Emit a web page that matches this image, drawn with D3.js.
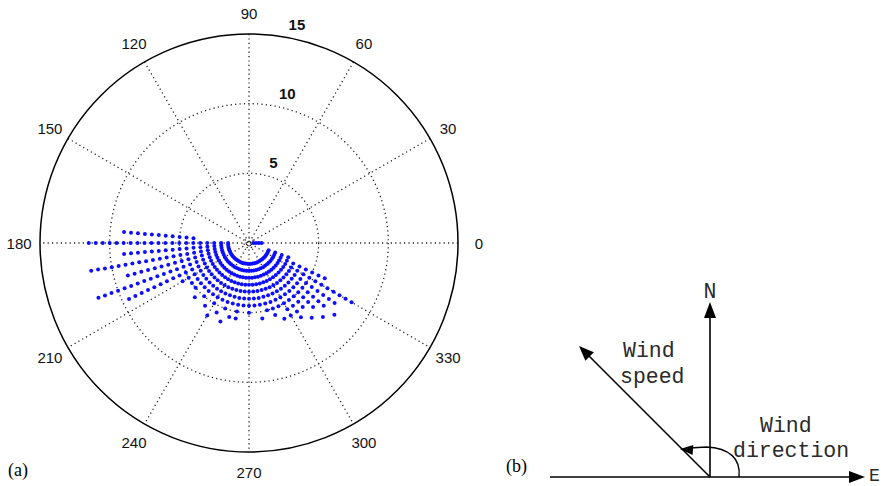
<!DOCTYPE html>
<html><head><meta charset="utf-8">
<script src="https://cdn.jsdelivr.net/npm/d3@7"></script>
<style>
html,body{margin:0;padding:0;background:#fff;}
svg{display:block;}
</style></head>
<body>
<svg id="chart" width="889" height="486"></svg>
<script>
// ---------- DATA ----------
const angleTicks = [0, 30, 60, 90, 120, 150, 180, 210, 240, 270, 300, 330];
const radialTicks = [5, 10, 15];
const radialMax = 15;
// wind direction (deg) of each ray of points
const directions = [0, 175, 180, 185, 190, 195, 200, 205, 210, 215, 220, 225, 230, 235, 240, 245, 250, 255, 260, 265, 270, 275, 280, 285, 290, 295, 300, 305, 310, 315, 320, 325, 330, 335, 340];
// wind speeds observed at each direction
const speeds = [
  [0.3, 0.5, 0.7, 0.9],
  [4, 4.5, 5, 5.5, 6, 6.5, 7, 7.5, 8, 8.5, 9],
  [1.5, 2, 2.5, 3, 3.5, 4, 4.5, 5, 5.5, 6, 6.5, 7, 7.5, 8, 8.5, 9, 9.5, 10, 10.5, 11, 11.5],
  [1.5, 2, 2.5, 3, 3.5, 4, 4.5, 5, 5.5, 6, 6.5, 7, 7.5, 8, 8.5, 9],
  [1.5, 2, 2.5, 3, 3.5, 4, 4.5, 5, 5.5, 6, 6.5, 7, 7.5, 8, 8.5, 9, 9.5, 10, 10.5, 11, 11.5],
  [1.5, 2, 2.5, 3, 3.5, 4, 4.5, 5, 5.5, 6, 6.5, 7, 7.5, 8, 8.5, 9],
  [1.5, 2, 2.5, 3, 3.5, 4, 4.5, 5, 5.5, 6, 6.5, 7, 7.5, 8, 8.5, 9, 9.5, 10, 10.5, 11, 11.5],
  [1.5, 2, 2.5, 3, 3.5, 4, 4.5, 5, 5.5, 6, 6.5, 7, 7.5, 8, 8.5, 9, 9.5],
  [1.5, 2, 2.5, 3, 3.5, 4, 4.5, 5, 5.5],
  [1.5, 2, 2.5, 3, 3.5, 4, 4.5, 5],
  [1.5, 2, 2.5, 3, 3.5, 4, 4.5, 5],
  [1.5, 2, 2.5, 3, 3.5, 4, 4.5, 5.5],
  [1.5, 2, 2.5, 3, 3.5, 4, 4.5, 5],
  [1.5, 2, 2.5, 3, 3.5, 4, 4.5, 5.5],
  [1.5, 2, 2.5, 3, 3.5, 4, 4.5, 5, 6],
  [1.5, 2, 2.5, 3, 3.5, 4, 4.5, 5.5],
  [1.5, 2, 2.5, 3, 3.5, 4, 4.5, 5, 6],
  [1.5, 2, 2.5, 3, 3.5, 4, 4.5, 5.5],
  [1.5, 2, 2.5, 3, 3.5, 4, 4.5, 5, 5.5],
  [1.5, 2, 2.5, 3, 3.5, 4, 4.5],
  [1.5, 2, 2.5, 3, 3.5, 4, 4.5, 5],
  [1.5, 2, 2.5, 3, 3.5, 4, 4.5],
  [1.5, 2, 2.5, 3, 3.5, 4, 4.5, 5.5],
  [1.5, 2, 2.5, 3, 3.5, 4, 4.5, 5],
  [1.5, 2, 2.5, 3, 3.5, 4, 4.5, 5, 5.5],
  [1.5, 2, 2.5, 3, 3.5, 4, 4.5, 5, 6],
  [1.5, 2, 2.5, 3, 3.5, 4, 4.5, 5, 5.5, 6],
  [1.5, 2, 2.5, 3, 3.5, 4, 4.5, 5, 5.5, 6, 6.5],
  [1.5, 2, 2.5, 3, 3.5, 4, 4.5, 5, 5.5, 6, 7],
  [1.5, 2, 2.5, 3, 3.5, 4, 4.5, 5, 5.5, 6, 6.5, 7.5],
  [1.5, 2, 2.5, 3, 3.5, 4, 4.5, 5, 5.5, 6, 6.5, 7, 8],
  [1.5, 2, 2.5, 3, 3.5, 4, 4.5, 5, 5.5, 6, 6.5, 7, 7.5],
  [1.5, 2, 2.5, 3, 3.5, 4, 4.5, 5, 5.5, 6, 6.5, 7, 7.5, 8, 8.5],
  [1.5, 2, 2.5, 3, 3.5, 4, 4.5, 5, 5.5, 6],
  [1.5, 2, 2.5, 3]
];
const innerRing = 0.35;
// diagram (b) texts
const diagramLabels = {north: "N", east: "E", speed: ["Wind", "speed"], dir: ["Wind", "direction"]};
const panelLabels = ["(a)", "(b)"];

// ---------- CHART ----------
const svg = d3.select("#chart");
const cx = 249, cy = 243, R = 209;
const r = d3.scaleLinear().domain([0, radialMax]).range([0, R]);
const toRad = d => d * Math.PI / 180;
const px = (deg, v) => cx + r(v) * Math.cos(toRad(deg));
const py = (deg, v) => cy - r(v) * Math.sin(toRad(deg));

const grid = svg.append("g");
const dotStyle = s => s.attr("fill", "none").attr("stroke", "#222").attr("stroke-width", 1.3)
  .attr("stroke-dasharray", "1.2,3.2");

// spokes (full diameters)
grid.selectAll("line.spoke").data(angleTicks.filter(a => a < 180)).join("line")
  .attr("x1", d => px(d, radialMax)).attr("y1", d => py(d, radialMax))
  .attr("x2", d => px(d + 180, radialMax)).attr("y2", d => py(d + 180, radialMax))
  .call(dotStyle);
// inner rings
grid.selectAll("circle.ring").data(radialTicks.filter(t => t < radialMax).concat([innerRing])).join("circle")
  .attr("cx", cx).attr("cy", cy).attr("r", d => r(d)).call(dotStyle);
// outer ring
grid.append("circle").attr("cx", cx).attr("cy", cy).attr("r", r(radialMax))
  .attr("fill", "none").attr("stroke", "#000").attr("stroke-width", 1.5);

// angle labels
svg.append("g").selectAll("text").data(angleTicks).join("text")
  .attr("x", d => cx + 1.1 * R * Math.cos(toRad(d)))
  .attr("y", d => cy - 1.1 * R * Math.sin(toRad(d)))
  .attr("text-anchor", "middle").attr("dominant-baseline", "central")
  .attr("font-family", "Liberation Sans, Arial, sans-serif").attr("font-size", 15)
  .attr("fill", "#111").text(d => d);

// radial labels
svg.append("g").selectAll("text").data(radialTicks).join("text")
  .attr("x", d => px(82, d + 0.25) + 10)
  .attr("y", d => py(82, d + 0.25) - 3)
  .attr("font-family", "Liberation Sans, Arial, sans-serif").attr("font-size", 15)
  .attr("font-weight", "bold").attr("fill", "#111").text(d => d);

// data points
const pts = [];
directions.forEach((dir, i) => speeds[i].forEach(s => pts.push({dir, s})));
svg.append("g").selectAll("circle").data(pts).join("circle")
  .attr("cx", d => px(d.dir, d.s)).attr("cy", d => py(d.dir, d.s))
  .attr("r", 2.0).attr("fill", "#0f0fff");

// panel labels
svg.append("text").attr("x", 8).attr("y", 476).attr("font-family", "Liberation Serif, Times New Roman, serif")
  .attr("font-size", 18).text(panelLabels[0]);
svg.append("text").attr("x", 506).attr("y", 472).attr("font-family", "Liberation Serif, Times New Roman, serif")
  .attr("font-size", 18).text(panelLabels[1]);

// ---------- DIAGRAM (b) ----------
const dg = svg.append("g").attr("stroke", "#000").attr("fill", "#000");
const ox = 710, oy = 477;
function arrowHead(tipX, tipY, angRad, len = 13, half = 5.5) {
  const bx = tipX - len * Math.cos(angRad), by = tipY - len * Math.sin(angRad);
  const nx = -Math.sin(angRad), ny = Math.cos(angRad);
  dg.append("path").attr("stroke", "none")
    .attr("d", `M${tipX},${tipY}L${bx + nx * half},${by + ny * half}L${bx - nx * half},${by - ny * half}Z`);
}
// E axis
dg.append("line").attr("x1", 550).attr("y1", oy).attr("x2", 854).attr("y2", oy).attr("stroke-width", 1.6);
arrowHead(865, oy, 0, 16, 6);
// N axis
dg.append("line").attr("x1", ox).attr("y1", oy).attr("x2", ox).attr("y2", 315).attr("stroke-width", 1.6);
arrowHead(ox, 302, -Math.PI / 2, 16, 6);
// speed arrow
const sa = Math.atan2(346 - oy, 579 - ox);
dg.append("line").attr("x1", ox).attr("y1", oy).attr("x2", 587).attr("y2", 354).attr("stroke-width", 1.6);
arrowHead(579, 346, sa, 15, 6);
// direction arc
dg.append("path").attr("fill", "none").attr("stroke-width", 1.4)
  .attr("d", "M739,477 C741,459 730,448 706,447 L690,448");
arrowHead(680, 449, Math.PI + 0.08, 13, 5);

const mono = "Liberation Mono, Courier New, monospace";
const tg = svg.append("g").attr("font-family", mono).attr("font-size", 21.5).attr("fill", "#2a2a2a");
tg.append("text").attr("x", ox).attr("y", 298).attr("text-anchor", "middle").text(diagramLabels.north);
tg.append("text").attr("x", 869).attr("y", 481).attr("font-size", 18).text(diagramLabels.east);
tg.append("text").attr("x", 623).attr("y", 357).text(diagramLabels.speed[0]);
tg.append("text").attr("x", 620).attr("y", 383).text(diagramLabels.speed[1]);
tg.append("text").attr("x", 760).attr("y", 432).text(diagramLabels.dir[0]);
tg.append("text").attr("x", 733).attr("y", 457).text(diagramLabels.dir[1]);
</script>
</body></html>
